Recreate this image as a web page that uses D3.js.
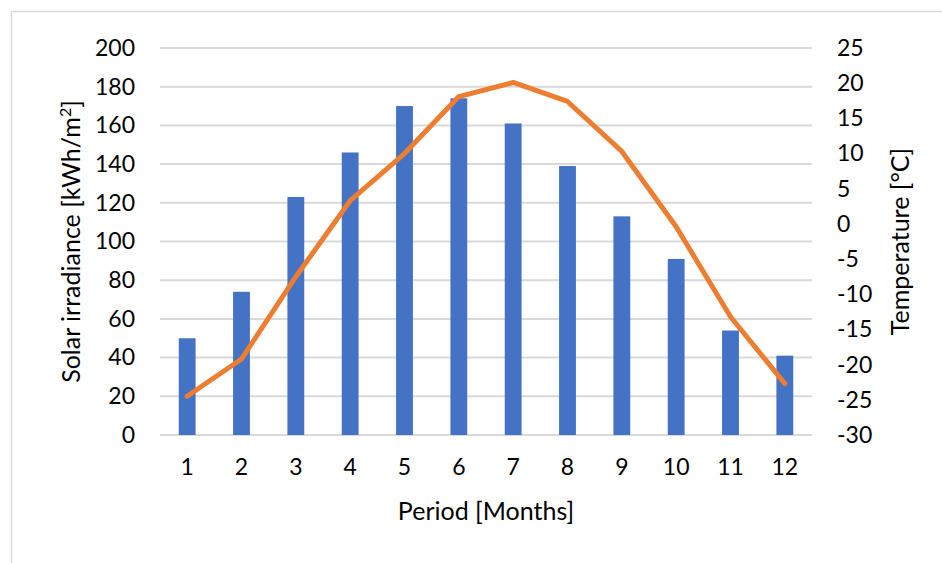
<!DOCTYPE html>
<meta charset="utf-8">
<style>
  body { margin: 0; background: #fff; }
  text { font-family: Lato, "Open Sans", sans-serif; fill: #000; }
  .grid line { stroke: #d9d9d9; stroke-width: 2px; }
  .line { fill: none; stroke: #ed7d31; stroke-width: 5px; stroke-linejoin: round; stroke-linecap: round; }
</style>
<body>
<script src="https://d3js.org/d3.v7.min.js"></script>
<script>

// chart data
var months = [1, 2, 3, 4, 5, 6, 7, 8, 9, 10, 11, 12];
var irradiance = [50, 74, 123, 146, 170, 174, 161, 139, 113, 91, 54, 41];
var temperature = [-24.5, -19.2, -7.5, 3.3, 10, 18.1, 20.1, 17.4, 10.3, -0.4, -13.2, -22.7];
var leftTicks = [0, 20, 40, 60, 80, 100, 120, 140, 160, 180, 200];
var rightTicks = [-30, -25, -20, -15, -10, -5, 0, 5, 10, 15, 20, 25];

var W = 942, H = 563;
var margin = {top: 48, right: 130, bottom: 128, left: 160},
    width = W - margin.left - margin.right,
    height = H - margin.top - margin.bottom;

var svg = d3.select("body").append("svg")
    .attr("width", W)
    .attr("height", H);

// outer chart frame
svg.append("rect")
    .attr("x", 11.5).attr("y", 11.5)
    .attr("width", W).attr("height", H)
    .attr("fill", "none")
    .attr("stroke", "#d9d9d9")
    .attr("stroke-width", 1.5);

var g = svg.append("g")
    .attr("transform", "translate(" + margin.left + "," + margin.top + ")");

// scales
var x = d3.scaleBand().domain(months).range([0, width]).paddingInner(0.69).paddingOuter(0.345);
var xc = d3.scaleBand().domain(months).range([0, width]);
var y = d3.scaleLinear().domain([0, 200]).range([height, 0]);
var y2 = d3.scaleLinear().domain([-30, 25]).range([height, 0]);

// gridlines
g.append("g")
    .attr("class", "grid")
  .selectAll("line")
  .data(leftTicks)
  .enter().append("line")
    .attr("x1", 0).attr("x2", width)
    .attr("y1", function(d) { return y(d); })
    .attr("y2", function(d) { return y(d); });

// bars
g.selectAll(".bar")
    .data(irradiance)
  .enter().append("rect")
    .attr("class", "bar")
    .attr("fill", "#4472c4")
    .attr("x", function(d, i) { return x(months[i]); })
    .attr("width", x.bandwidth())
    .attr("y", function(d) { return y(d); })
    .attr("height", function(d) { return height - y(d); });

// temperature line
var valueline = d3.line()
    .x(function(d, i) { return xc(months[i]) + xc.bandwidth() / 2; })
    .y(function(d) { return y2(d); });

g.append("path")
    .datum(temperature)
    .attr("class", "line")
    .attr("d", valueline);

// axes (labels only)
var axLeft = g.append("g")
    .call(d3.axisLeft(y).tickValues(leftTicks).tickSize(0).tickPadding(25).tickFormat(String));
var axRight = g.append("g")
    .attr("transform", "translate(" + width + ",0)")
    .call(d3.axisRight(y2).tickValues(rightTicks).tickSize(0).tickPadding(25).tickFormat(String));
var axBottom = g.append("g")
    .attr("transform", "translate(0," + height + ")")
    .call(d3.axisBottom(xc).tickSize(0).tickPadding(24));

[axLeft, axRight, axBottom].forEach(function(a) {
  a.select(".domain").remove();
  a.selectAll("text").style("font-size", "23px").attr("fill", "#000");
});

// axis titles
svg.append("text")
    .attr("x", margin.left + width / 2)
    .attr("y", 520)
    .attr("text-anchor", "middle")
    .style("font-size", "25px")
    .text("Period [Months]");

var lt = svg.append("text")
    .attr("transform", "translate(80," + (margin.top + height / 2) + ") rotate(-90)")
    .attr("text-anchor", "middle")
    .style("font-size", "25px");
lt.append("tspan").text("Solar irradiance [kWh/m");
lt.append("tspan").attr("baseline-shift", "super").style("font-size", "16px").text("2");
lt.append("tspan").text("]");

svg.append("text")
    .attr("transform", "translate(909," + (margin.top + height / 2) + ") rotate(-90)")
    .attr("text-anchor", "middle")
    .style("font-size", "25px")
    .text("Temperature [°C]");

</script>
</body>
